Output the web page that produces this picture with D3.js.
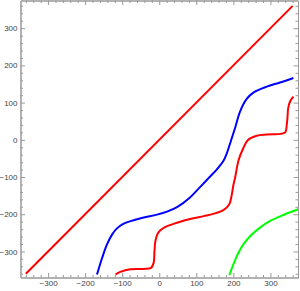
<!DOCTYPE html>
<html>
<head>
<meta charset="utf-8">
<script src="https://cdn.jsdelivr.net/npm/d3@7"></script>
<style>
  body { margin: 0; background: #fff; }
  .tick text { font-family: "Liberation Sans", Arial, sans-serif; font-size: 8px; fill: #444; }
</style>
</head>
<body>
<div id="wrapper"></div>
<script>
// data (x, y)
const diagonal = [[-360, -360], [360, 360]];
const blueCurve = [
  [-168, -362], [-154, -317], [-141, -281], [-127, -254], [-114, -238], [-96, -225],
  [-69, -216], [-42, -209], [-6, -201], [21, -193], [48, -181], [83, -155],
  [110, -127], [133, -103], [155, -80], [173, -57], [182, -37],
  [191, -10], [205, 33], [218, 76], [236, 110], [254, 127], [290, 143],
  [326, 154], [362, 166]
];
const redSteps = [
  [-118, -362], [-105, -355], [-78, -348], [-42, -347], [-22, -344], [-15, -330],
  [-13, -300], [-10, -270], [-4, -252], [3, -243], [21, -232], [48, -223],
  [83, -213], [120, -205], [146, -199], [173, -189], [189, -173], [196, -146],
  [200, -122], [205, -100], [214, -55], [227, -22], [240, 0], [263, 11],
  [290, 14], [326, 16], [340, 20], [344, 40], [346, 60], [348, 85],
  [353, 103], [362, 116]
];
const greenCurve = [
  [189, -364], [200, -335], [214, -303], [227, -281], [245, -259], [272, -236],
  [299, -218], [335, -202], [380, -185]
];
const majorTicks = [-300, -200, -100, 0, 100, 200, 300];
const minorTicks = d3.range(-360, 361, 20).filter((d) => d % 100 != 0);

async function drawChart() {
  const dimensions = {
    width: 300,
    height: 291,
    left: 20.5,
    right: 298,
    top: 0.5,
    bottom: 277.5,
  };

  const svg = d3
    .select("#wrapper")
    .append("svg")
    .attr("width", dimensions.width)
    .attr("height", dimensions.height);

  const xScale = d3
    .scaleLinear()
    .domain([-374.4, 374.4])
    .range([dimensions.left, dimensions.right]);

  const yScale = d3
    .scaleLinear()
    .domain([-370, 374.4])
    .range([dimensions.bottom, dimensions.top]);

  // clip for the curves
  svg
    .append("clipPath")
    .attr("id", "plot-clip")
    .append("rect")
    .attr("x", dimensions.left)
    .attr("y", dimensions.top)
    .attr("width", dimensions.right - dimensions.left)
    .attr("height", dimensions.bottom - dimensions.top);

  const fmt = (d) => (d < 0 ? "\u2212" + Math.abs(d) : "" + d);

  // frame axes, ticks pointing inward
  const makeAxis = (axisFn, scale, pos, values, size, labels) => {
    const ax = axisFn(scale).tickValues(values).tickSize(-size).tickSizeOuter(0);
    ax.tickFormat(labels ? fmt : () => "").tickPadding(3);
    const g = svg.append("g").attr("transform", pos).call(ax);
    g.selectAll("path, line").attr("stroke", "#999").attr("stroke-width", 1);
    return g;
  };

  const bottomPos = `translate(0,${dimensions.bottom})`;
  const topPos = `translate(0,${dimensions.top})`;
  const leftPos = `translate(${dimensions.left},0)`;
  const rightPos = `translate(${dimensions.right},0)`;

  makeAxis(d3.axisBottom, xScale, bottomPos, minorTicks, 2.5, false);
  makeAxis(d3.axisBottom, xScale, bottomPos, majorTicks, 4.5, true);
  makeAxis(d3.axisTop, xScale, topPos, minorTicks, 2.5, false);
  makeAxis(d3.axisTop, xScale, topPos, majorTicks, 4.5, false);
  makeAxis(d3.axisLeft, yScale, leftPos, minorTicks, 2.5, false);
  makeAxis(d3.axisLeft, yScale, leftPos, majorTicks, 4.5, true);
  makeAxis(d3.axisRight, yScale, rightPos, minorTicks, 2.5, false);
  makeAxis(d3.axisRight, yScale, rightPos, majorTicks, 4.5, false);

  svg.selectAll(".tick text").attr("fill", "#444");

  const line = d3
    .line()
    .x((d) => xScale(d[0]))
    .y((d) => yScale(d[1]))
    .curve(d3.curveCatmullRom.alpha(0.5));

  const curves = svg.append("g").attr("clip-path", "url(#plot-clip)");

  const series = [
    { data: diagonal, color: "#ff0000" },
    { data: blueCurve, color: "#0000ff" },
    { data: redSteps, color: "#ff0000" },
    { data: greenCurve, color: "#00ff00" },
  ];

  curves
    .selectAll("path")
    .data(series)
    .join("path")
    .attr("d", (d) => line(d.data))
    .attr("fill", "none")
    .attr("stroke", (d) => d.color)
    .attr("stroke-width", 2)
    .attr("stroke-linejoin", "round");
}
drawChart();
</script>
</body>
</html>
